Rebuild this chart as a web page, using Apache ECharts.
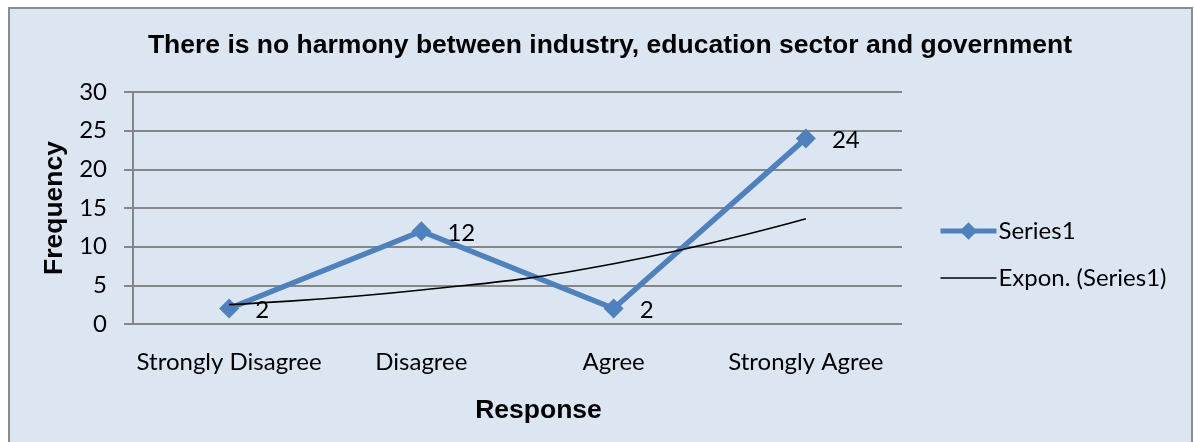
<!DOCTYPE html>
<html>
<head>
<meta charset="utf-8">
<style>html,body{margin:0;padding:0;background:#fff;}#c{width:1194px;height:442px;}</style>
<script src="https://cdn.jsdelivr.net/npm/echarts@6/dist/echarts.min.js"></script>
</head>
<body>
<div id="c"></div>
<script>
const categories = ['Strongly Disagree', 'Disagree', 'Agree', 'Strongly Agree'];
const series1 = [2, 12, 2, 24];
const exponTrend = [2.5, 4.4, 7.8, 13.6];
const titleText = 'There is no harmony between industry, education sector and government';

const chart = echarts.init(document.getElementById('c'));
const bodyFont = 'Lato, "Open Sans", sans-serif';
const boldFont = '"Liberation Sans", Arial, sans-serif';
chart.setOption({
  animation: false,
  backgroundColor: '#ffffff',
  graphic: [{
    type: 'rect', left: 8, top: 7, z: -10,
    shape: { width: 1183, height: 440 },
    style: { fill: '#dce6f2', stroke: '#8c8c8c', lineWidth: 2 }
  }],
  title: {
    text: titleText, left: 605, top: 27, textAlign: 'center',
    textStyle: { fontFamily: boldFont, fontWeight: 'bold', fontSize: 26.5, color: '#000' }
  },
  legend: {
    orient: 'vertical', left: 933, top: 214, itemGap: 23, itemWidth: 56, itemHeight: 22,
    textStyle: { fontFamily: bodyFont, fontSize: 24, color: '#000', padding: [0, 0, 0, -3] },
    data: [
      { name: 'Series1', lineStyle: { width: 5, color: '#4f81bd' }, itemStyle: { color: '#4f81bd' } },
      { name: 'Expon. (Series1)', icon: 'path://M0,0 L56,0 L56,1.6 L0,1.6 Z', itemStyle: { color: '#000' } }
    ]
  },
  grid: { left: 133, right: 292, top: 92, bottom: 118 },
  xAxis: {
    type: 'category', data: categories, boundaryGap: true,
    name: 'Response', nameLocation: 'middle', nameGap: 73,
    nameTextStyle: { fontFamily: boldFont, fontWeight: 'bold', fontSize: 26.5, color: '#000', padding: [0, 0, 0, 42] },
    axisLine: { show: false }, axisTick: { show: false },
    axisLabel: { interval: 0, fontFamily: bodyFont, fontSize: 24, color: '#000', margin: 26 }
  },
  yAxis: {
    type: 'value', min: 0, max: 30, interval: 5,
    name: 'Frequency', nameLocation: 'middle', nameGap: 59,
    nameTextStyle: { fontFamily: boldFont, fontWeight: 'bold', fontSize: 26.5, color: '#000' },
    axisLine: { show: true, lineStyle: { color: '#868686', width: 2 } },
    axisTick: { show: true, length: 9, lineStyle: { color: '#868686', width: 2 } },
    axisLabel: { fontFamily: bodyFont, fontSize: 24, color: '#000', margin: 26 },
    splitLine: { lineStyle: { color: '#868686', width: 2 } }
  },
  series: [{
    name: 'Series1', type: 'line', data: series1,
    symbol: 'diamond', symbolSize: 20,
    lineStyle: { color: '#4f81bd', width: 5.5 },
    itemStyle: { color: '#4f81bd' },
    label: { show: true, position: 'right', distance: 16, fontFamily: bodyFont, fontSize: 24, color: '#000', offset: [0, 2] },
    z: 3
  }, {
    name: 'Expon. (Series1)', type: 'line', data: exponTrend,
    symbol: 'none', smooth: true,
    lineStyle: { color: '#000', width: 1.6 },
    itemStyle: { color: '#000' },
    z: 4
  }]
});
</script>
</body>
</html>
